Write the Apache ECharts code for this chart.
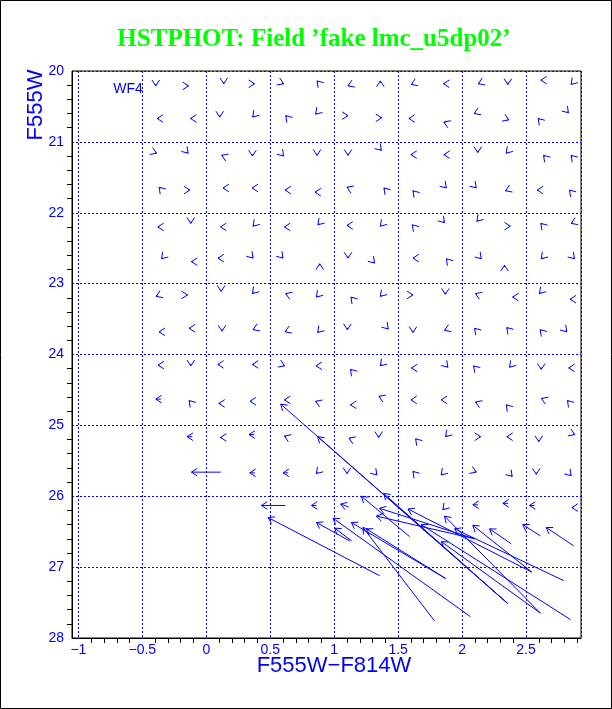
<!DOCTYPE html>
<html><head><meta charset="utf-8">
<script src="https://cdn.jsdelivr.net/npm/echarts@6/dist/echarts.min.js"></script>
<style>html,body{margin:0;padding:0;background:#fff}#c{width:612px;height:709px}</style>
</head><body><div id="c"></div>
<script>
// ---- small arrows on the fake-star grid: arrow head (colour, mag) and tail offset ----
const gridColor = [
  -0.395,-0.139,0.137,0.377,0.605,0.866,1.108,1.361,1.603,1.855,2.127,2.358,2.616,2.853,
  -0.384,-0.123,0.105,0.363,0.621,0.855,1.108,1.371,1.584,1.858,2.095,2.366,2.595,2.832,
  -0.389,-0.142,0.121,0.361,0.605,0.866,1.108,1.369,1.600,1.858,2.123,2.345,2.637,2.853,
  -0.369,-0.129,0.131,0.358,0.616,0.850,1.100,1.389,1.616,1.877,2.111,2.340,2.588,2.840,
  -0.379,-0.121,0.111,0.366,0.611,0.873,1.100,1.361,1.611,1.863,2.116,2.377,2.616,2.853,
  -0.350,-0.116,0.092,0.366,0.600,0.887,1.108,1.316,1.616,1.877,2.150,2.332,2.619,2.879,
  -0.392,-0.147,0.116,0.361,0.621,0.861,1.131,1.361,1.616,1.869,2.105,2.395,2.605,2.845,
  -0.369,-0.134,0.123,0.366,0.616,0.871,1.103,1.423,1.616,1.863,2.098,2.350,2.611,2.819,
  -0.377,-0.121,0.090,0.361,0.613,0.858,1.127,1.361,1.605,1.889,2.090,2.371,2.619,2.834,
  -0.395,-0.134,0.098,0.342,0.611,0.855,1.127,1.350,1.600,1.837,2.105,2.345,2.621,2.824,
  -0.150,0.111,0.334,0.611,1.116,1.348,1.637,1.871,2.145,2.350,2.600,2.881,
  0.340,0.600,0.861,1.100,1.334,1.616,1.837,2.111,2.392,2.580,2.853,
  0.822,1.850,2.084,2.319,2.527,2.859
];
const gridMag = [
  20.21,20.21,20.18,20.18,20.18,20.14,20.21,20.14,20.19,20.18,20.18,20.19,20.13,20.19,
  20.67,20.67,20.65,20.65,20.63,20.61,20.63,20.66,20.67,20.72,20.60,20.69,20.67,20.59,
  21.16,21.16,21.19,21.20,21.20,21.19,21.19,21.12,21.18,21.18,21.15,21.16,21.19,21.19,
  21.64,21.68,21.65,21.65,21.68,21.71,21.64,21.65,21.69,21.65,21.65,21.69,21.68,21.68,
  22.20,22.15,22.20,22.19,22.20,22.17,22.18,22.19,22.17,22.14,22.12,22.19,22.15,22.15,
  22.65,22.69,22.64,22.64,22.64,22.72,22.64,22.71,22.64,22.65,22.65,22.74,22.65,22.65,
  23.18,23.16,23.11,23.14,23.14,23.19,23.19,23.18,23.16,23.15,23.14,23.19,23.14,23.22,
  23.68,23.63,23.67,23.65,23.68,23.69,23.65,23.64,23.69,23.66,23.63,23.62,23.65,23.68,
  24.15,24.16,24.14,24.14,24.16,24.16,24.21,24.16,24.19,24.18,24.16,24.18,24.21,24.19,
  24.63,24.65,24.69,24.66,24.64,24.66,24.71,24.59,24.64,24.64,24.67,24.71,24.62,24.65,
  25.16,25.17,25.13,25.15,25.18,25.17,25.19,25.16,25.16,25.16,25.23,25.13,
  25.67,25.67,25.68,25.68,25.70,25.65,25.70,25.66,25.72,25.69,25.71,
  26.13,26.19,26.12,26.10,26.13,26.16
];
// tail minus head (colour)
const gridDColor = [
  0,-0.012,0,-0.012,-0.012,0.009,0.012,0,0.012,0.012,0.012,0,0.012,0.009,
  0.012,0.012,0,0.009,0.009,0.009,-0.012,-0.012,0.012,0.012,0.012,-0.012,0.009,-0.009,
  -0.012,-0.009,0.012,0,-0.009,0,0,-0.009,0.012,0.012,0,0.009,0.009,0.009,
  0.009,-0.012,0.012,0.012,0.012,0.012,0.012,0.009,0.009,-0.009,-0.009,0.012,0.012,0.009,
  0.012,0,0.012,0.009,0.012,0.009,0.012,0.009,0.009,-0.009,0.009,-0.012,0.009,0.012,
  0.009,0.012,0.012,-0.009,-0.009,0,0,-0.009,0.012,0.009,-0.009,0,0.009,-0.009,
  0.012,-0.012,0,0.009,0.012,0.009,0.009,0.009,-0.012,0,0.012,0.012,0.009,0.012,
  0.012,0.012,0,0.012,0.012,0.009,0,-0.009,0,0.012,0.009,0.009,0.009,-0.009,
  0.012,0,0.012,0.012,-0.012,0.012,0.009,0.009,0.012,-0.009,0.009,0.009,0,0.012,
  0.04,0.009,0.012,0.012,0.012,0.012,0.012,0.012,0.012,0.012,0.012,0.009,0.012,0.009,
  0.04,0.012,0.04,0.012,0.012,0,0.009,0.009,-0.012,0.012,0,-0.012,
  0.04,0.04,0.009,0,-0.009,0.009,0.009,-0.012,-0.009,0,-0.009,
  0.04,0.009,0.04,0.04,0.04,0.012
];
// tail minus head (magnitude)
const gridDMag = [
  -0.025,0,-0.025,0,-0.009,0.018,-0.009,0.025,-0.009,0,-0.009,-0.025,0,-0.018,
  0,0,-0.025,-0.018,0.018,-0.018,0,0,0,0.009,-0.009,-0.009,0.018,-0.018,
  -0.009,-0.018,0.009,-0.025,-0.018,-0.025,-0.025,-0.018,0,0,-0.025,-0.018,0.018,0.018,
  0.018,0,0,0,0,0,0.009,0.018,0.018,-0.018,-0.018,-0.009,0,0.018,
  0,-0.025,0,-0.018,0,-0.018,0,-0.018,0.018,-0.018,-0.018,0,0.018,-0.009,
  -0.018,0,0,-0.018,-0.018,0.025,-0.025,-0.018,0,0.018,-0.018,0.025,-0.018,-0.018,
  -0.009,0,-0.025,-0.018,0.009,-0.018,0.018,-0.018,0,-0.025,0.009,0,-0.018,0,
  0,0,-0.025,-0.009,-0.009,-0.018,-0.025,-0.018,-0.025,-0.009,0.018,0.018,0.018,-0.018,
  0,-0.025,0,0,-0.009,0,0.018,-0.018,0,-0.018,0.018,-0.018,-0.025,0,
  0,0.018,0,0,0,0.009,0,0.009,0,0,0.009,0.018,0.009,0.018,
  0,0,0,0.009,0.009,-0.025,0.018,-0.018,0,0,-0.025,-0.009,
  0,0,-0.018,-0.025,-0.018,0.018,-0.018,-0.009,-0.018,-0.025,-0.018,
  0,-0.018,0,0,0,0
];
// ---- long arrows: head and tail ----
const longHeadColor = [0.582,0.871,1.387,-0.116,0.431,1.051,1.213,1.355,1.577,0.483,0.861,0.991,1.004,1.134,1.225,1.252,1.330,1.681,1.863,1.838,1.941,2.084,2.215,2.475,2.658];
const longHeadMag   = [24.70,25.16,25.96,25.66,26.13,26.11,26.00,26.17,26.18,26.30,26.37,26.31,26.45,26.37,26.44,26.46,26.28,26.40,26.28,26.64,26.46,26.41,26.46,26.40,26.44];
const longTailColor = [2.355,2.355,2.355,0.113,0.619,1.113,1.590,2.098,2.545,1.355,1.121,2.066,1.137,1.871,1.785,1.871,2.098,2.848,2.613,2.613,2.795,2.545,2.384,2.613,2.873];
const longTailMag   = [27.51,27.51,27.51,25.66,26.13,26.15,26.57,26.60,27.07,27.12,26.63,27.70,26.63,27.16,27.76,27.16,26.60,27.74,27.65,27.65,27.19,27.07,26.67,26.56,26.70];

const xTickValues = [-1,-0.5,0,0.5,1,1.5,2,2.5];
const xTickLabels = ['\u22121','\u22120.5','0','0.5','1','1.5','2','2.5'];
const yTickValues = [20,21,22,23,24,25,26,27,28];
const yTickLabels = ['20','21','22','23','24','25','26','27','28'];

const BLUE = '#0000ff';
const smallData = gridColor.map((c,i)=>[c, gridMag[i], c+gridDColor[i], gridMag[i]+gridDMag[i]]);
const longData = longHeadColor.map((c,i)=>[c, longHeadMag[i], longTailColor[i], longTailMag[i]]);

function renderArrow(params, api){
  const h = api.coord([api.value(0), api.value(1)]);
  const t = api.coord([api.value(2), api.value(3)]);
  let dx = h[0]-t[0], dy = h[1]-t[1];
  const L = Math.hypot(dx,dy) || 1; dx/=L; dy/=L;
  const len = 7, ang = 33*Math.PI/180;
  const wing = a => {
    const c=Math.cos(a), s=Math.sin(a), bx=-dx, by=-dy;
    return [h[0]+len*(bx*c-by*s), h[1]+len*(bx*s+by*c)];
  };
  return {type:'group', children:[
    {type:'line', shape:{x1:t[0],y1:t[1],x2:h[0],y2:h[1]}, style:{stroke:BLUE,lineWidth:1}},
    {type:'polyline', shape:{points:[wing(ang),h,wing(-ang)]}, style:{stroke:BLUE,lineWidth:1,fill:null}}
  ]};
}

const chart = echarts.init(document.getElementById('c'), null, {renderer:'canvas'});
chart.setOption({
  animation:false,
  backgroundColor:'#fff',
  grid:{left:72, top:71, width:509, height:567, show:true, borderColor:'#000', borderWidth:1, backgroundColor:'transparent'},
  xAxis:{type:'value', min:-1.05, max:2.93, splitNumber:8,
    axisLine:{show:true, onZero:false, lineStyle:{color:'#000', width:1}},
    axisTick:{show:false},
    minorTick:{show:true, splitNumber:5, length:5, lineStyle:{color:'#000'}},
    minorSplitLine:{show:false},
    splitLine:{show:true, lineStyle:{color:BLUE, type:[2,2], width:1}},
    axisLabel:{color:BLUE, fontSize:14, fontFamily:'Liberation Sans', margin:5, showMinLabel:false, showMaxLabel:false,
      formatter:v=>{const i=xTickValues.findIndex(t=>Math.abs(t-v)<1e-6); return i<0?'':xTickLabels[i];}}
  },
  yAxis:{type:'value', inverse:true, min:20, max:28, interval:1,
    axisLine:{show:true, onZero:false, lineStyle:{color:'#000', width:1}},
    axisTick:{show:false},
    minorTick:{show:true, splitNumber:5, length:5, lineStyle:{color:'#000'}},
    splitLine:{show:true, lineStyle:{color:BLUE, type:[2,2], width:1}},
    axisLabel:{color:BLUE, fontSize:14, fontFamily:'Liberation Sans', margin:8,
      formatter:v=>{const i=yTickValues.indexOf(v); return i<0?'':yTickLabels[i];}}
  },
  series:[
    {type:'custom', coordinateSystem:'cartesian2d', renderItem:renderArrow, data:smallData, encode:{x:[0,2], y:[1,3]}, silent:true},
    {type:'custom', coordinateSystem:'cartesian2d', renderItem:renderArrow, data:longData, encode:{x:[0,2], y:[1,3]}, silent:true}
  ],
  graphic:[
    {type:'rect', shape:{x:0.5,y:0.5,width:611,height:708}, style:{fill:null, stroke:'#000', lineWidth:1}, silent:true},
    {type:'text', x:314, y:40, style:{text:'HSTPHOT: Field \u2019fake lmc_u5dp02\u2019', align:'center', verticalAlign:'middle', font:'bold 25px "Liberation Serif"', fill:'#00ff00'}},
    {type:'text', x:36, y:105, rotation:Math.PI/2, style:{text:'F555W', align:'center', verticalAlign:'middle', font:'22px "Liberation Sans"', fill:BLUE}},
    {type:'text', x:334, y:666, style:{text:'F555W\u2212F814W', align:'center', verticalAlign:'middle', font:'22px "Liberation Sans"', fill:BLUE}},
    {type:'text', x:128, y:89, style:{text:'WF4', align:'center', verticalAlign:'middle', font:'14px "Liberation Sans"', fill:BLUE}}
  ]
});
</script></body></html>
